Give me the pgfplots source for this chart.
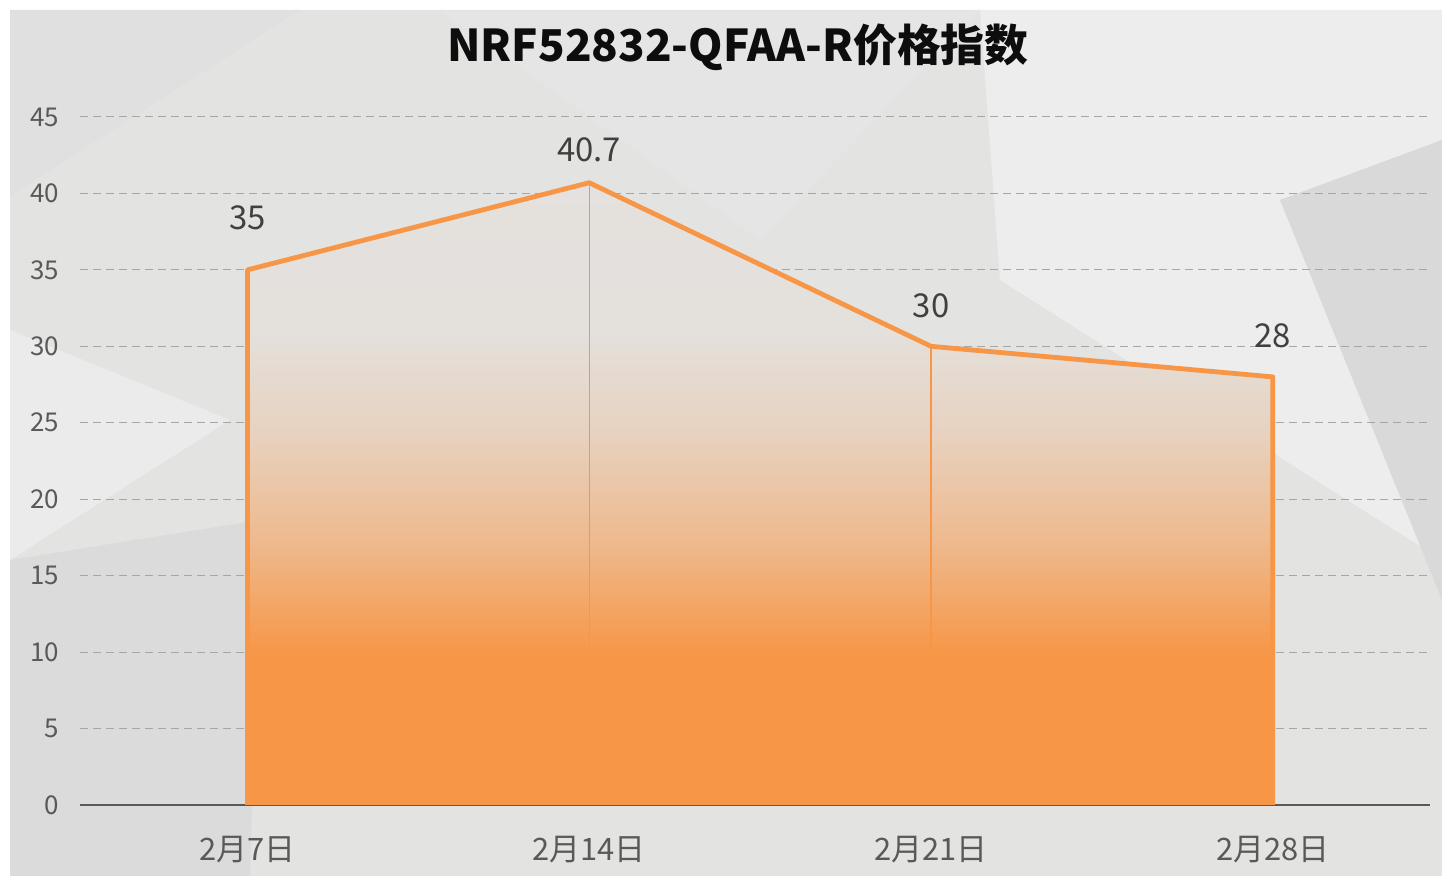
\documentclass[border=0pt]{standalone}
\usepackage{pgfplots}
\pgfplotsset{compat=1.18}
\usetikzlibrary{calc,backgrounds}
\usepackage{fontspec}
\setmainfont{Noto Sans CJK SC}
\definecolor{org}{HTML}{F79646}
\definecolor{bg}{HTML}{E3E3E2}
\definecolor{txt}{HTML}{595959}
\colorlet{mixA}{org!55!bg}
\colorlet{mixB}{org!22!bg}
\colorlet{mixC}{bg!96!org}
\pgfdeclareverticalshading{areashade}{100bp}{color(0bp)=(org); color(37bp)=(org); color(46bp)=(mixA); color(55bp)=(mixB); color(63bp)=(mixC); color(100bp)=(bg)}
\begin{document}
\begin{tikzpicture}[x=1bp,y=1bp]
\begin{axis}[
  scale only axis, width=675bp, height=344bp,
  xmin=-0.49, xmax=3.46, ymin=0, ymax=45,
  xtick={0,1,2,3},
  xticklabels={2月7日,2月14日,2月21日,2月28日},
  ytick={0,5,...,45},
  axis x line*=bottom, axis y line*=left,
  x axis line style={draw=black!65, line width=1bp, -},
  y axis line style={draw=none},
  ymajorgrids, major grid style={draw=black!35, line width=0.5bp, dash pattern=on 4bp off 2.5bp},
  tick style={draw=none},
  xticklabel style={font=\fontsize{15.5}{17}\selectfont, text=txt, yshift=-12bp},
  yticklabel style={font=\fontsize{13}{15}\selectfont, text=txt, xshift=-7bp},
  /pgf/number format/assume math mode=true,
  clip=false,
]
\coordinate (O) at (rel axis cs:0,0);
\addplot[draw=none, shading=areashade] coordinates {(0,35) (1,40.7) (2,30) (3,28)} \closedcycle;
\addplot[ycomb, org, line width=0.6bp] coordinates {(1,40.7) (2,30)};
\addplot[org, line width=2.4bp, line join=round] coordinates {(0,0) (0,35) (1,40.7) (2,30) (3,28) (3,0)};
\addplot[draw=none, mark=none, nodes near coords, point meta=explicit symbolic,
  nodes near coords style={font=\fontsize{16.5}{18}\selectfont, text=black!75, anchor=center, yshift=26bp}]
  coordinates {(0,35) [35]};
\addplot[draw=none, mark=none, nodes near coords, point meta=explicit symbolic,
  nodes near coords style={font=\fontsize{16.5}{18}\selectfont, text=black!75, anchor=center, yshift=16.5bp}]
  coordinates {(1,40.7) [40.7]};
\addplot[draw=none, mark=none, nodes near coords, point meta=explicit symbolic,
  nodes near coords style={font=\fontsize{16.5}{18}\selectfont, text=black!75, anchor=center, yshift=20.5bp}]
  coordinates {(2,30) [30] (3,28) [28]};
\end{axis}
\begin{scope}[shift={($(O)+(-40,-35.5)$)}]
\begin{pgfonlayer}{background}
\fill[white] (0,0) rectangle (721,438);
\fill[bg] (5,0) rectangle (721,433);
\fill[white!93!black] (490,433) -- (721,433) -- (721,158) -- (500,298) -- cycle;
\fill[white!90!black] (220,433) -- (490,433) -- (380,318) -- cycle;
\fill[white!92!black] (5,273) -- (115,228) -- (5,158) -- cycle;
\fill[black!14] (5,158) -- (130,178) -- (125,0) -- (5,0) -- cycle;
\fill[black!15] (640,338) -- (721,368) -- (721,138) -- cycle;
\fill[black!12] (5,433) -- (150,433) -- (5,340) -- cycle;
\end{pgfonlayer}
\node[font=\bfseries\fontsize{22}{25}\selectfont, text=black!95] at (369,414.5) {NRF52832-QFAA-R价格指数};
\pgfresetboundingbox
\useasboundingbox (0,0) rectangle (721,438);
\end{scope}
\end{tikzpicture}
\end{document}
